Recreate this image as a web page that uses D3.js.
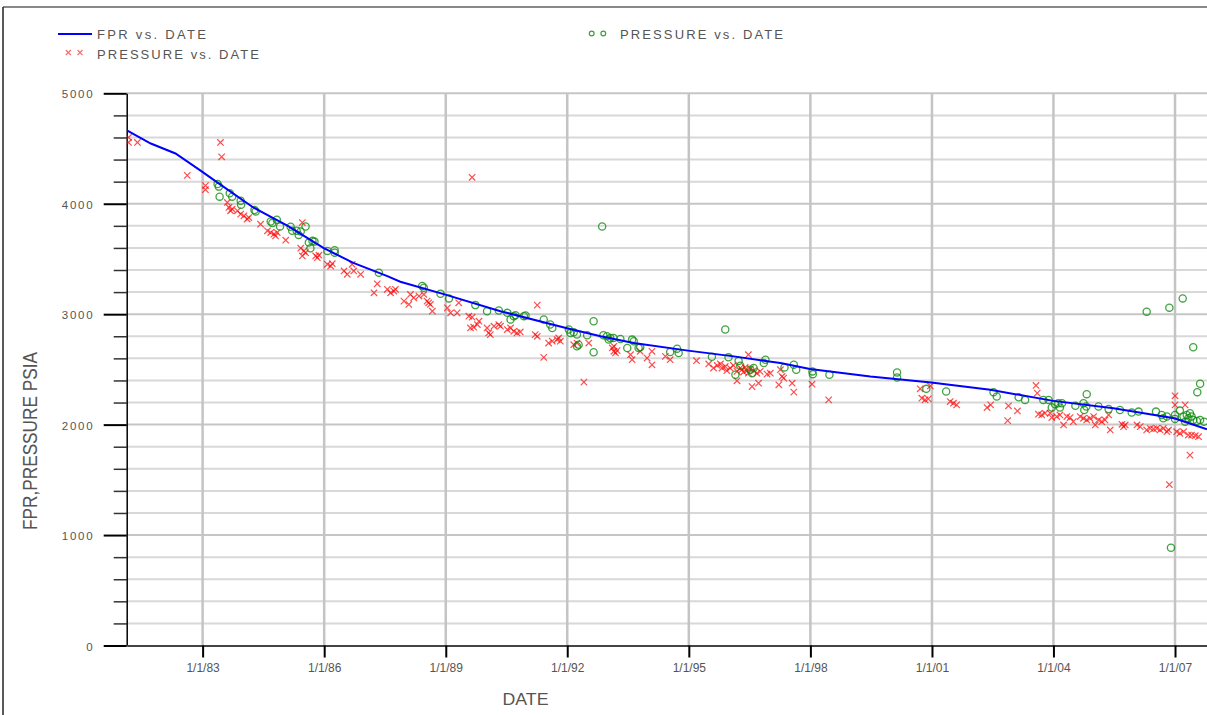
<!DOCTYPE html>
<html><head><meta charset="utf-8">
<script src="https://cdn.jsdelivr.net/npm/d3@7"></script>
<style>html,body{margin:0;padding:0;background:#fff;overflow:hidden}</style>
</head><body><svg id="chart" width="1207" height="715"></svg>
<script>
// ---- DATA (decimal years, psia) ----
const fprDates = [1981.13,1981.72,1982.33,1982.95,1983.37,1984.26,1985.10,1985.98,1986.72,1987.56,
  1987.88,1988.97,1990.35,1991.97,1992.82,1993.64,1994.98,1996.11,1997.26,1997.99,
  1999.48,2000.98,2002.44,2004.00,2005.48,2006.98,2007.79];
const fprValues = [4664,4545,4455,4300,4191,3964,3800,3600,3464,3345,
  3294,3179,3027,2875,2800,2739,2670,2618,2557,2503,
  2436,2382,2315,2215,2148,2057,1957];

const pressureXDates = [
  1981.17,1981.17,1981.39,1982.62,1983.07,1983.07,1983.44,1983.47,1983.61,1983.65,
  1983.69,1983.73,1983.86,1983.94,1984.02,1984.10,1984.14,1984.43,1984.60,1984.68,
  1984.76,1984.80,1984.84,1985.05,1985.46,1985.42,1985.50,1985.46,1985.54,1985.79,
  1985.83,1985.87,1986.08,1986.16,1986.20,1986.49,1986.57,1986.73,1986.69,1986.90,
  1987.31,1987.23,1987.56,1987.64,1987.72,1987.76,1987.97,1988.09,1988.13,1988.21,
  1988.34,1988.54,1988.62,1988.67,1988.58,1988.46,1989.04,1989.12,1989.28,1989.32,
  1989.57,1989.65,1989.65,1989.61,1989.69,1989.78,1989.82,1990.02,1990.06,1990.10,
  1990.19,1990.31,1990.35,1990.52,1990.60,1990.68,1990.76,1990.84,1991.26,1991.21,
  1991.26,1991.42,1991.54,1991.63,1991.75,1991.79,1991.83,1992.16,1992.24,1992.41,
  1992.53,1993.11,1993.15,1993.19,1993.23,1993.15,1993.56,1993.60,1993.80,1993.97,
  1994.09,1994.09,1994.42,1994.54,1995.19,1995.49,1995.61,1995.70,1995.78,1995.82,
  1995.90,1995.94,1996.02,1996.10,1996.19,1996.27,1996.31,1996.35,1996.39,1996.43,
  1996.47,1996.52,1996.60,1996.68,1996.76,1996.47,1996.19,1996.56,1996.72,1996.93,
  1997.01,1997.22,1997.30,1997.34,1997.26,1997.55,1997.59,1998.04,1998.45,2000.71,
  2000.75,2000.83,2000.91,2000.96,2001.45,2001.53,2001.61,2002.36,2002.45,2002.89,
  2002.87,2003.11,2003.57,2003.60,2003.63,2003.71,2003.79,2003.92,2003.96,2004.08,
  2004.16,2004.25,2004.33,2004.41,2004.49,2004.66,2004.74,2004.82,2004.90,2004.99,
  2005.03,2005.11,2005.19,2005.27,2005.40,2005.36,2005.69,2005.73,2005.77,2006.06,
  2006.14,2006.30,2006.39,2006.47,2006.55,2006.63,2006.71,2006.80,2006.84,2007.00,
  2007.00,2007.25,2007.04,2007.12,2007.21,2007.33,2007.41,2007.50,2007.58,2007.37,
  2006.86];
const pressureXValues = [
  4600,4555,4555,4257,4164,4127,4555,4425,4012,3966,
  3936,3952,3936,3906,3891,3861,3875,3815,3755,3739,
  3725,3709,3739,3670,3830,3597,3573,3527,3557,3527,
  3512,3534,3452,3436,3457,3391,3361,3391,3452,3361,
  3275,3194,3225,3194,3209,3225,3118,3088,3179,3148,
  3164,3118,3088,3027,3103,3179,3057,3012,3012,3103,
  2982,4239,2973,2875,2882,2906,2936,2875,2830,2815,
  2891,2906,2891,2861,2875,2845,2830,2839,3082,2815,
  2800,2609,2739,2755,2770,2785,2755,2724,2739,2385,
  2739,2694,2664,2649,2670,2709,2633,2588,2664,2603,
  2664,2542,2618,2588,2579,2549,2512,2536,2549,2512,
  2527,2488,2512,2536,2482,2512,2497,2476,2518,2488,
  2466,2506,2488,2466,2482,2633,2397,2345,2375,2457,
  2466,2361,2436,2421,2497,2375,2294,2366,2224,2324,
  2239,2224,2233,2350,2209,2194,2179,2155,2179,2170,
  2036,2124,2355,2285,2094,2088,2103,2103,2064,2073,
  2088,1997,2073,2064,2027,2073,2057,2042,2057,2073,
  1997,2042,2027,2042,1952,2088,2003,1982,1997,1997,
  1982,1952,1966,1961,1966,1952,1966,1936,1952,2261,
  2179,2179,1936,1921,1936,1906,1906,1900,1891,1724,
  1457];

const pressureODates = [
  1983.37,1983.40,1983.42,1983.67,1983.73,1983.94,1983.95,1984.28,1984.31,1984.68,
  1984.72,1984.83,1984.91,1985.17,1985.21,1985.32,1985.37,1985.42,1985.54,1985.62,
  1985.71,1985.76,1985.66,1986.08,1986.26,1986.26,1987.35,1988.42,1988.46,1988.87,
  1989.08,1989.73,1990.02,1990.31,1990.52,1990.60,1990.68,1990.72,1990.93,1990.97,
  1991.42,1991.58,1991.63,1992.04,1992.08,1992.16,1992.24,1992.28,1992.24,1992.49,
  1992.65,1992.65,1992.86,1992.89,1992.98,1993.02,1993.06,1993.14,1993.31,1993.48,
  1993.60,1993.64,1993.76,1993.80,1994.54,1994.71,1994.75,1995.57,1995.90,1995.98,
  1996.15,1996.23,1996.27,1996.52,1996.56,1996.60,1996.85,1996.89,1997.36,1997.59,
  1997.65,1998.05,1998.06,1998.47,2000.14,2000.14,2000.86,2001.35,2002.52,2002.60,
  2003.14,2003.30,2003.75,2003.88,2003.96,2004.04,2004.12,2004.16,2004.21,2004.54,
  2004.74,2004.76,2004.81,2004.82,2005.11,2005.36,2005.64,2005.93,2006.10,2006.30,
  2006.53,2006.67,2006.71,2006.80,2006.86,2006.90,2007.00,2007.00,2007.19,2007.21,
  2007.29,2007.33,2007.41,2007.45,2007.45,2007.54,2007.55,2007.62,2007.62,2007.72,
  2007.37,2007.25,2007.12];
const pressureOValues = [
  4179,4155,4064,4094,4064,4027,3991,3943,3930,3839,
  3825,3855,3794,3791,3755,3755,3718,3748,3794,3648,
  3664,3657,3597,3573,3579,3557,3375,3255,3239,3185,
  3143,3082,3027,3034,3012,2952,2982,2991,2982,2988,
  2952,2906,2875,2861,2830,2836,2815,2724,2709,2809,
  2936,2655,3794,2809,2800,2770,2785,2785,2776,2694,
  2770,2755,2694,2700,2657,2688,2649,2614,2861,2609,
  2452,2577,2533,2497,2466,2512,2557,2588,2518,2542,
  2497,2482,2457,2452,2473,2427,2324,2300,2294,2255,
  2248,2224,2224,2224,2155,2185,2194,2155,2194,2170,
  2194,2133,2164,2276,2164,2142,2133,2109,2118,3023,
  2118,2088,2057,2073,3059,885,2088,2052,3143,2073,
  2088,2057,2073,2042,2700,2033,2294,2370,2042,2027,
  2103,2027,2127];

const xTickYears = [1983,1986,1989,1992,1995,1998,2001,2004,2007];
const yMajorTicks = [0,1000,2000,3000,4000,5000];
const yMinorTicks = [200,400,600,800,1200,1400,1600,1800,2200,2400,2600,2800,3200,3400,3600,3800,4200,4400,4600,4800];
const xDomainYears = [1981.125, 2007.79];
const seriesLabels = ["FPR  vs.  DATE", "PRESSURE  vs.  DATE", "PRESSURE  vs.  DATE"];
const axisTitles = {x: "DATE", y: "FPR,PRESSURE  PSIA"};

// ---- helpers ----
function yd(v){ const yr=Math.floor(v); const s=Date.UTC(yr,0,1), e=Date.UTC(yr+1,0,1); return new Date(s+(v-yr)*(e-s)); }

const svg = d3.select("#chart");
const pL = 126.7, pR = 1207, pT = 93.3, pB = 645.5;
const x = d3.scaleUtc().domain(xDomainYears.map(yd)).range([pL, pR]);
const y = d3.scaleLinear().domain([0,5000]).range([pB, pT]);
const txt = "#555";

// frame
svg.append("line").attr("x1",3).attr("x2",1207).attr("y1",7).attr("y2",7).attr("stroke","#888").attr("stroke-width",2);
svg.append("line").attr("x1",3).attr("x2",3).attr("y1",7).attr("y2",715).attr("stroke","#222").attr("stroke-width",1.5);

// grid
const grid = svg.append("g");
grid.selectAll("line.h").data(yMinorTicks.concat(yMajorTicks.filter(d=>d>0))).enter().append("line")
  .attr("x1",pL).attr("x2",pR).attr("y1",d=>y(d)).attr("y2",d=>y(d))
  .attr("stroke",d=>d%1000===0?"#c6c6c6":"#d8d8d8").attr("stroke-width",2);
grid.selectAll("line.v").data(xTickYears).enter().append("line")
  .attr("x1",d=>x(yd(d))).attr("x2",d=>x(yd(d))).attr("y1",pT).attr("y2",pB)
  .attr("stroke","#c4c4c4").attr("stroke-width",2.5);

// axes
const yMinorAxis = d3.axisLeft(y).tickValues(yMinorTicks).tickSize(13).tickSizeOuter(0).tickFormat("");
const gym = svg.append("g").attr("transform",`translate(${pL},0)`).call(yMinorAxis);
gym.select(".domain").remove();
gym.selectAll(".tick line").attr("stroke","#333").attr("stroke-width",1.5);

const yAxis = d3.axisLeft(y).tickValues(yMajorTicks).tickSize(23).tickSizeOuter(0).tickPadding(11).tickFormat(d3.format("d"));
const gy = svg.append("g").attr("transform",`translate(${pL},0)`).call(yAxis);
gy.select(".domain").attr("stroke","#000").attr("stroke-width",1.5);
gy.selectAll(".tick line").attr("stroke","#000").attr("stroke-width",2);
gy.selectAll(".tick text").attr("fill",txt).attr("font-family","Liberation Sans, Arial, sans-serif")
  .attr("font-size",11.5).attr("dy","0.4em")
  .attr("textLength",d=>d>0?31:null).attr("lengthAdjust","spacing");

const xAxis = d3.axisBottom(x).tickValues(xTickYears.map(v=>yd(v))).tickSize(12).tickSizeOuter(0).tickPadding(6)
  .tickFormat(d3.utcFormat("%-m/%-d/%y"));
const gx = svg.append("g").attr("transform",`translate(0,${pB})`).call(xAxis);
gx.select(".domain").attr("stroke","#444").attr("stroke-width",2);
gx.selectAll(".tick line").attr("stroke","#000").attr("stroke-width",2);
gx.selectAll(".tick text").attr("fill",txt).attr("font-family","Liberation Sans Narrow, Arial Narrow, sans-serif")
  .attr("font-size",12);

// axis titles
svg.append("text").attr("transform",`translate(36.5,441) rotate(-90)`).attr("text-anchor","middle")
  .attr("font-family","Liberation Sans Narrow, sans-serif").attr("font-size",20).attr("fill",txt)
  .attr("textLength",178).attr("lengthAdjust","spacingAndGlyphs").text(axisTitles.y);
svg.append("text").attr("x",525.5).attr("y",705).attr("text-anchor","middle")
  .attr("font-family","Liberation Sans Narrow, sans-serif").attr("font-size",16.5).attr("fill",txt)
  .attr("textLength",46).attr("lengthAdjust","spacingAndGlyphs").text(axisTitles.x);

// plot clip
svg.append("clipPath").attr("id","clip").append("rect").attr("x",pL).attr("y",pT-10).attr("width",pR-pL).attr("height",pB-pT+10);
const plot = svg.append("g").attr("clip-path","url(#clip)");

const xPath = "M-3.2,-3.2L3.2,3.2M-3.2,3.2L3.2,-3.2";
const redData = pressureXDates.map((d,i)=>[d,pressureXValues[i]]);
plot.selectAll("path.px").data(redData).enter().append("path")
  .attr("d",xPath).attr("transform",d=>`translate(${x(yd(d[0]))},${y(d[1])})`)
  .attr("fill","none").attr("stroke","#ff0000").attr("stroke-opacity",0.7).attr("stroke-width",1.2);

const greenData = pressureODates.map((d,i)=>[d,pressureOValues[i]]);
plot.selectAll("circle.po").data(greenData).enter().append("circle")
  .attr("cx",d=>x(yd(d[0]))).attr("cy",d=>y(d[1])).attr("r",3.6)
  .attr("fill","none").attr("stroke","#0b8a0b").attr("stroke-opacity",0.78).attr("stroke-width",1.3);

const fprData = fprDates.map((d,i)=>[d,fprValues[i]]);
plot.append("path").datum(fprData)
  .attr("d",d3.line().x(d=>x(yd(d[0]))).y(d=>y(d[1])))
  .attr("fill","none").attr("stroke","#0000ff").attr("stroke-width",2);

// legend
const lg = svg.append("g").attr("font-family","Liberation Sans, Arial, sans-serif").attr("font-size",13).attr("fill",txt);
lg.append("line").attr("x1",58).attr("x2",92).attr("y1",34).attr("y2",34).attr("stroke","#0000ff").attr("stroke-width",2);
lg.append("text").attr("x",97).attr("y",39.3).attr("textLength",109).attr("lengthAdjust","spacing").text(seriesLabels[0]);
[68.3,80].forEach(cx=>lg.append("path").attr("d","M-2.5,-2.5L2.5,2.5M-2.5,2.5L2.5,-2.5")
  .attr("transform",`translate(${cx},52.5)`).attr("stroke","#ff0000").attr("stroke-opacity",0.6).attr("stroke-width",1.1).attr("fill","none"));
lg.append("text").attr("x",97).attr("y",59).attr("textLength",162).attr("lengthAdjust","spacing").text(seriesLabels[1]);
[591.7,603.3].forEach(cx=>lg.append("circle").attr("cx",cx).attr("cy",33.5).attr("r",2.4)
  .attr("fill","none").attr("stroke","#0b8a0b").attr("stroke-opacity",0.8).attr("stroke-width",1.2));
lg.append("text").attr("x",620).attr("y",39).attr("textLength",163).attr("lengthAdjust","spacing").text(seriesLabels[2]);
</script>
</body></html>
